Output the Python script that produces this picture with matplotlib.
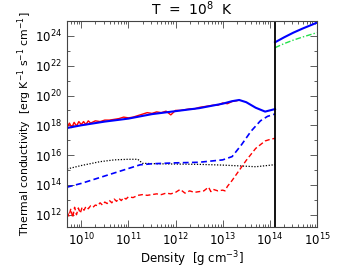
import numpy as np
import matplotlib
matplotlib.use('Agg')
import matplotlib.pyplot as plt
from matplotlib.ticker import LogLocator, FixedLocator, NullFormatter

# values, stored as log10(density) and log10(conductivity)
# total conductivity in the crust (blue solid) and its electron part (red solid)
tot_lx = [9.70, 10.0, 10.5, 11.0, 11.5, 12.0, 12.5, 13.0, 13.2, 13.35, 13.5, 13.7, 13.9, 14.11]
tot_ly = [17.82, 18.0, 18.25, 18.45, 18.75, 18.95, 19.15, 19.45, 19.62, 19.70, 19.55, 19.18, 18.92, 19.09]

ele_lx = [9.70, 9.75, 9.80, 9.85, 9.90, 9.95, 10.0, 10.05, 10.1, 10.15, 10.2, 10.3, 10.4, 10.5,
          10.6, 10.7, 10.8, 10.9, 11.0, 11.1, 11.2, 11.3, 11.4, 11.5, 11.6, 11.7, 11.8, 11.9,
          12.0, 12.1, 12.2, 12.3, 12.4, 12.5, 12.6, 12.7, 12.8, 12.9, 13.0, 13.1, 13.2, 13.3]
ele_ly = [17.85, 18.15, 17.85, 18.2, 17.95, 18.25, 18.05, 18.25, 18.05, 18.3, 18.15, 18.3, 18.25, 18.35,
          18.35, 18.4, 18.45, 18.55, 18.5, 18.55, 18.65, 18.75, 18.85, 18.8, 18.9, 18.85, 18.95, 18.7,
          19.0, 19.0, 19.05, 19.1, 19.1, 19.2, 19.25, 19.3, 19.35, 19.35, 19.5, 19.45, 19.6, 19.65]

# core part (right of the crust-core boundary)
core_lx = [14.11, 14.3, 14.5, 14.7, 15.0]
core_ly = [23.57, 23.9, 24.22, 24.5, 24.89]
core2_ly = [23.21, 23.48, 23.72, 23.93, 24.22]

# blue dashed
bd_lx = [9.70, 10.0, 10.5, 11.0, 11.25, 11.5, 12.0, 12.5, 13.0, 13.2, 13.4, 13.6, 13.8, 13.95, 14.11]
bd_ly = [13.85, 14.1, 14.6, 15.1, 15.35, 15.42, 15.48, 15.52, 15.68, 15.9, 16.7, 17.6, 18.3, 18.6, 18.76]

# black dotted
dot_lx = [9.70, 10.0, 10.4, 10.7, 11.0, 11.2, 11.3, 11.6, 12.0, 12.5, 13.0, 13.4, 13.7, 14.0, 14.11]
dot_ly = [15.07, 15.30, 15.56, 15.68, 15.72, 15.72, 15.45, 15.42, 15.40, 15.38, 15.33, 15.27, 15.22, 15.32, 15.36]

# red dashed (noisy)
rd_lx = [9.70, 9.74, 9.78, 9.82, 9.86, 9.90, 9.94, 9.98, 10.02, 10.06, 10.10, 10.15, 10.20, 10.25,
         10.30, 10.35, 10.40, 10.45, 10.50, 10.55, 10.60, 10.65, 10.70, 10.75, 10.80, 10.85, 10.90,
         10.95, 11.0, 11.1, 11.2, 11.3, 11.4, 11.5, 11.6, 11.7, 11.8, 11.9, 12.0, 12.1, 12.2, 12.3,
         12.4, 12.5, 12.6, 12.7, 12.75, 12.8, 12.9, 13.0, 13.05, 13.1, 13.2, 13.3, 13.4, 13.5, 13.6,
         13.7, 13.8, 13.9, 14.0, 14.11]
rd_ly = [12.2, 11.9, 12.4, 11.8, 12.5, 12.0, 12.45, 12.1, 12.5, 12.3, 12.55, 12.4, 12.6, 12.5,
         12.65, 12.6, 12.8, 12.65, 12.85, 12.75, 12.95, 12.8, 13.05, 12.9, 13.1, 12.95, 13.15,
         13.05, 13.2, 13.15, 13.3, 13.35, 13.3, 13.35, 13.4, 13.35, 13.45, 13.4, 13.5, 13.7, 13.45,
         13.6, 13.5, 13.55, 13.6, 13.85, 13.55, 13.7, 13.6, 13.65, 13.6, 13.9, 14.3, 14.75, 15.2,
         15.65, 16.05, 16.45, 16.7, 16.95, 17.05, 17.13]

rho_core = 1.3e14
x_range = (5e9, 1e15)
y_range = (1.5e11, 1e25)

fig = plt.figure(figsize=(3.38, 2.71), dpi=100)
ax = fig.add_axes([67 / 338, 1 - 227 / 271, 250 / 338, 206 / 271])

def p(lx, ly):
    return 10 ** np.array(lx), 10 ** np.array(ly)

ax.plot(*p(dot_lx, dot_ly), color='black', lw=0.9, ls=(0, (1, 1.3)))
ax.plot(*p(bd_lx, bd_ly), color='blue', lw=1.2, ls=(0, (3.5, 2)))
ax.plot(*p(rd_lx, rd_ly), color='red', lw=1.0, ls=(0, (3.5, 2)))
ax.plot(*p(ele_lx, ele_ly), color='red', lw=1.0)
ax.plot(*p(tot_lx, tot_ly), color='blue', lw=1.5)
ax.plot(*p(core_lx, core2_ly), color='#22e04a', lw=1.0, ls=(0, (4, 1.5, 1, 1.5)))
ax.plot(*p(core_lx, core_ly), color='blue', lw=1.5)
ax.axvline(rho_core, color='black', lw=1.3)

ax.set_xscale('log')
ax.set_yscale('log')
ax.set_xlim(*x_range)
ax.set_ylim(*y_range)

ax.xaxis.set_major_locator(FixedLocator([1e10, 1e11, 1e12, 1e13, 1e14, 1e15]))
ax.xaxis.set_minor_locator(LogLocator(base=10, subs=np.arange(2, 10), numticks=20))
ax.xaxis.set_minor_formatter(NullFormatter())
ax.yaxis.set_major_locator(FixedLocator([10.0 ** e for e in range(12, 25, 2)]))
ax.yaxis.set_minor_locator(FixedLocator([10.0 ** e for e in range(11, 26, 2)]))
ax.yaxis.set_minor_formatter(NullFormatter())

ax.tick_params(which='both', direction='in', top=True, right=True, colors='#444444',
               labelcolor='black', labelsize=8.5, width=0.6)
ax.tick_params(which='major', length=5)
ax.tick_params(which='minor', length=2.5)
ax.tick_params(axis='x', pad=3.5)
for s in ax.spines.values():
    s.set_color('#444444')
    s.set_linewidth(0.8)

ax.set_title('T  =  10$^8$  K', fontsize=10, pad=4)
ax.set_xlabel('Density  [g cm$^{-3}$]', fontsize=8.5, labelpad=1)
ax.set_ylabel('Thermal conductivity  [erg K$^{-1}$ s$^{-1}$ cm$^{-1}$]', fontsize=7.8, labelpad=1)

fig.savefig('out.png', dpi=100)
